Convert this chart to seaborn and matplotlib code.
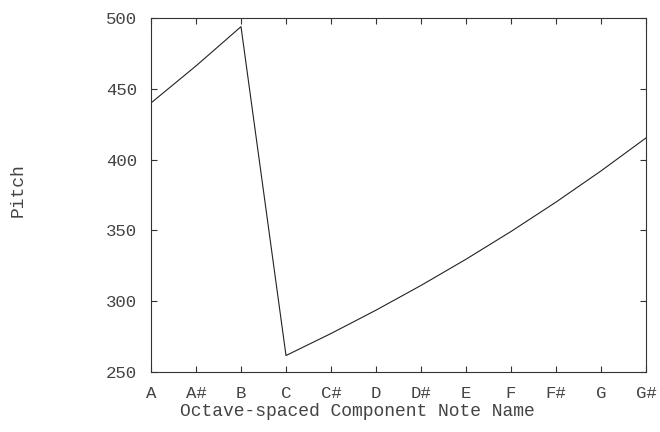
import matplotlib
matplotlib.use("Agg")
import matplotlib.pyplot as plt
import seaborn as sns
import pandas as pd

notes = ["A", "A#", "B", "C", "C#", "D", "D#", "E", "F", "F#", "G", "G#"]
pitch = [440.00, 466.16, 493.88, 261.63, 277.18, 293.66, 311.13, 329.63, 349.23, 369.99, 392.00, 415.30]
yticks = [250, 300, 350, 400, 450, 500]

sns.set_theme(style="white")
plt.rcParams["font.family"] = ["Liberation Mono", "DejaVu Sans Mono"]

df = pd.DataFrame({"idx": list(range(len(notes))), "pitch": pitch})

fig = plt.figure(figsize=(6.6, 4.32), dpi=100)
ax = fig.add_axes([151/660, 1-372/432, (646-151)/660, (372-18)/432])
sns.lineplot(data=df, x="idx", y="pitch", ax=ax, color="#222222", linewidth=0.8)

ax.set_xlim(0, len(notes)-1)
ax.set_ylim(250, 500)
ax.set_xticks(range(len(notes)))
ax.set_xticklabels(notes)
ax.set_yticks(yticks)
ax.tick_params(direction="in", length=4, width=0.8, color="#333333",
               top=True, right=True, bottom=True, left=True,
               labelsize=12.5, labelcolor="#444444", pad=10)
for s in ax.spines.values():
    s.set_color("#333333")
    s.set_linewidth(0.8)
ax.set_xlabel("Octave-spaced Component Note Name", fontsize=13, color="#444444")
ax.set_ylabel("Pitch", fontsize=13, color="#444444")
ax.xaxis.set_label_coords((357-151)/495, -(412-372)/354, transform=ax.transAxes)
ax.yaxis.set_label_coords(-(151-18)/495, (372-190)/354, transform=ax.transAxes)
ax.xaxis.label.set_va("center")
ax.yaxis.label.set_va("center")
fig.savefig("out.png", dpi=100)
